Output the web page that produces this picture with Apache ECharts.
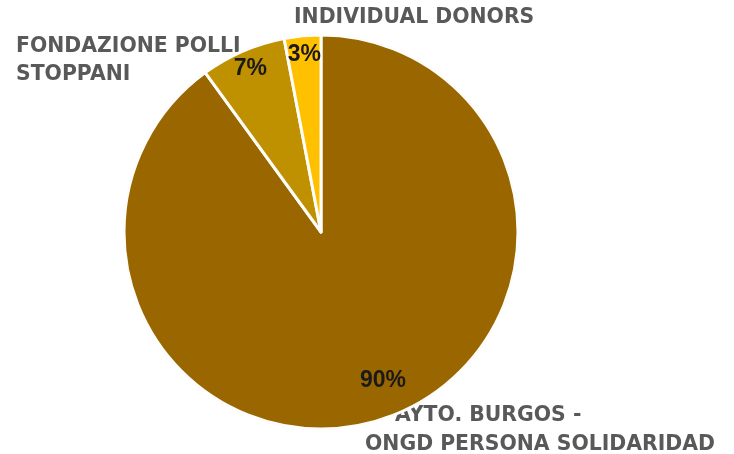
<!DOCTYPE html>
<html>
<head>
<meta charset="utf-8">
<script src="https://cdn.jsdelivr.net/npm/echarts@6/dist/echarts.min.js"></script>
<style>html,body{margin:0;padding:0;background:#fff;}#c{width:734px;height:454px;}</style>
</head>
<body>
<div id="c"></div>
<script>
const categories = ['AYTO. BURGOS -\nONGD PERSONA SOLIDARIDAD', 'FONDAZIONE POLLI\nSTOPPANI', 'INDIVIDUAL DONORS'];
const values = [90, 7, 3];
const colors = ['#996600', '#BF9000', '#FFC000'];
const percentLabels = ['90%', '7%', '3%'];

const chart = echarts.init(document.getElementById('c'), null, {renderer: 'canvas'});
const pieData = values.map((v, i) => ({ value: v, name: categories[i], itemStyle: { color: colors[i] } }));
const labelData = values.map((v, i) => ({ value: v, name: percentLabels[i] }));
const nudges = [[7, -21], [0, 0], [0, 0]];

const nameLines = [];
categories.forEach((c, i) => c.split('\n').forEach((t, j) => nameLines.push({ t, i, j })));
const namePos = {
  '0-0': [395, 416], '0-1': [365, 445],
  '1-0': [16, 47], '1-1': [16, 75],
  '2-0': [294, 18]
};

chart.setOption({
  animation: false,
  series: [
    {
      type: 'pie',
      center: [321, 232],
      radius: [0, 197],
      startAngle: 90,
      clockwise: true,
      silent: true,
      label: { show: false },
      labelLine: { show: false },
      itemStyle: { borderColor: '#fdfdfb', borderWidth: 3 },
      data: pieData
    },
    {
      type: 'pie',
      center: [321, 232],
      radius: [0, 350],
      startAngle: 90,
      clockwise: true,
      silent: true,
      itemStyle: { color: 'rgba(0,0,0,0)' },
      label: {
        show: true,
        position: 'inside',
        formatter: '{b}',
        color: '#1a1a1a',
        fontFamily: 'Liberation Sans',
        fontWeight: 'bold',
        fontSize: 23
      },
      labelLayout: function (p) {
        const n = nudges[p.dataIndex];
        return { dx: n[0], dy: n[1] };
      },
      labelLine: { show: false },
      data: labelData
    }
  ],
  graphic: nameLines.map(o => ({
    type: 'text',
    x: namePos[o.i + '-' + o.j][0],
    y: namePos[o.i + '-' + o.j][1],
    style: {
      text: o.t,
      fill: '#595959',
      font: 'bold 20.4px "DejaVu Sans"',
      textAlign: 'left',
      textVerticalAlign: 'middle'
    }
  }))
});
</script>
</body>
</html>
